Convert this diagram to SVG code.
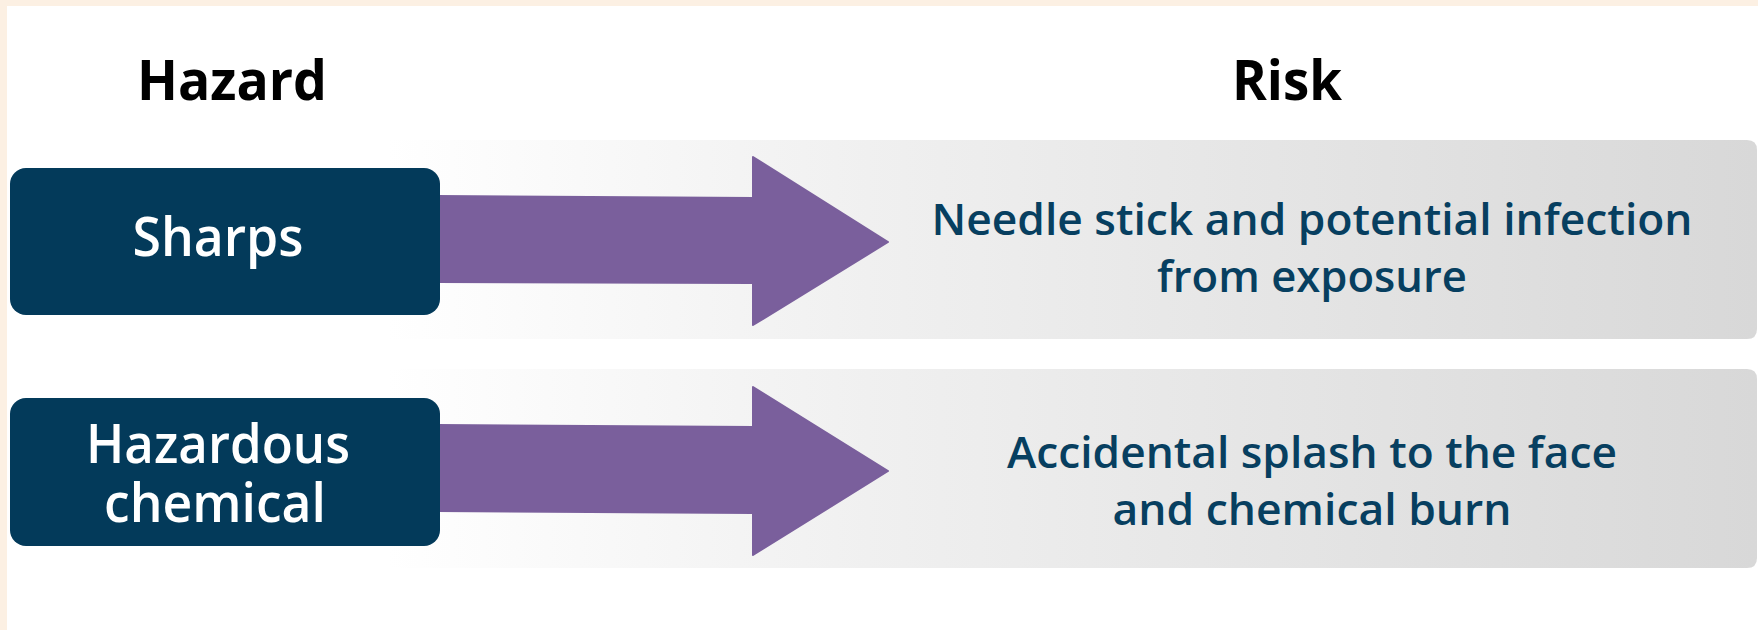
<svg xmlns="http://www.w3.org/2000/svg" width="1758" height="630" viewBox="0 0 1758 630">
  <defs>
    <linearGradient id="panelGrad" x1="388" y1="0" x2="1757" y2="0" gradientUnits="userSpaceOnUse">
      <stop offset="0" stop-color="#ffffff"/>
      <stop offset="0.35" stop-color="#f0f0f0"/>
      <stop offset="1" stop-color="#d8d8d8"/>
    </linearGradient>
    <style>
      .heading { font-family: "Open Sans", "Liberation Sans", sans-serif; font-weight: 700; font-size: 56px; fill: #000000; text-anchor: middle; }
      .hz { fill: #033a5a; }
      .hzText { font-family: "Open Sans", "Liberation Sans", sans-serif; font-weight: 600; font-size: 55px; fill: #ffffff; text-anchor: middle; }
      .panel { fill: url(#panelGrad); }
      .riskText { font-family: "Open Sans", "Liberation Sans", sans-serif; font-weight: 600; font-size: 44px; fill: #073f60; text-anchor: middle; }
      .arrow { fill: #7a5f9c; stroke: #7a5f9c; stroke-width: 2; stroke-linejoin: round; }
    </style>
  </defs>

  <rect x="0" y="0" width="1758" height="630" fill="#ffffff"/>
  <rect x="0" y="0" width="1758" height="6" fill="#fcf0e3"/>
  <rect x="0" y="0" width="7" height="630" fill="#fcf0e3"/>

  <g id="header-hazard">
    <text class="heading" x="232" y="100" textLength="190" lengthAdjust="spacingAndGlyphs">Hazard</text>
  </g>
  <g id="header-risk">
    <text class="heading" x="1287" y="100" textLength="110" lengthAdjust="spacingAndGlyphs">Risk</text>
  </g>

  <g id="risk-1">
    <path class="panel" d="M388 140 H1747 Q1757 140 1757 150 V329 Q1757 339 1747 339 H388 Z"/>
    <text class="riskText" x="1312" y="235" textLength="761" lengthAdjust="spacingAndGlyphs">Needle stick and potential infection</text>
    <text class="riskText" x="1312" y="292" textLength="310" lengthAdjust="spacingAndGlyphs">from exposure</text>
  </g>
  <g id="risk-2">
    <path class="panel" d="M388 369 H1747 Q1757 369 1757 379 V558 Q1757 568 1747 568 H388 Z"/>
    <text class="riskText" x="1312" y="468" textLength="610" lengthAdjust="spacingAndGlyphs">Accidental splash to the face</text>
    <text class="riskText" x="1312" y="525" textLength="399" lengthAdjust="spacingAndGlyphs">and chemical burn</text>
  </g>

  <g id="connectors">
    <polygon class="arrow" points="437,196 753,198 753,157 888,242 753,325 753,283 437,282"/>
    <polygon class="arrow" points="437,425 753,427 753,387 888,471 753,555 753,513 437,511"/>
  </g>

  <g id="hazard-sharps">
    <rect class="hz" x="10" y="168" width="430" height="147" rx="16" ry="16"/>
    <text class="hzText" x="218" y="256" textLength="171" lengthAdjust="spacingAndGlyphs">Sharps</text>
  </g>
  <g id="hazard-chemical">
    <rect class="hz" x="10" y="398" width="430" height="148" rx="16" ry="16"/>
    <text class="hzText" x="218" y="463" textLength="264" lengthAdjust="spacingAndGlyphs">Hazardous</text>
    <text class="hzText" x="215" y="522" textLength="222" lengthAdjust="spacingAndGlyphs">chemical</text>
  </g>
</svg>
